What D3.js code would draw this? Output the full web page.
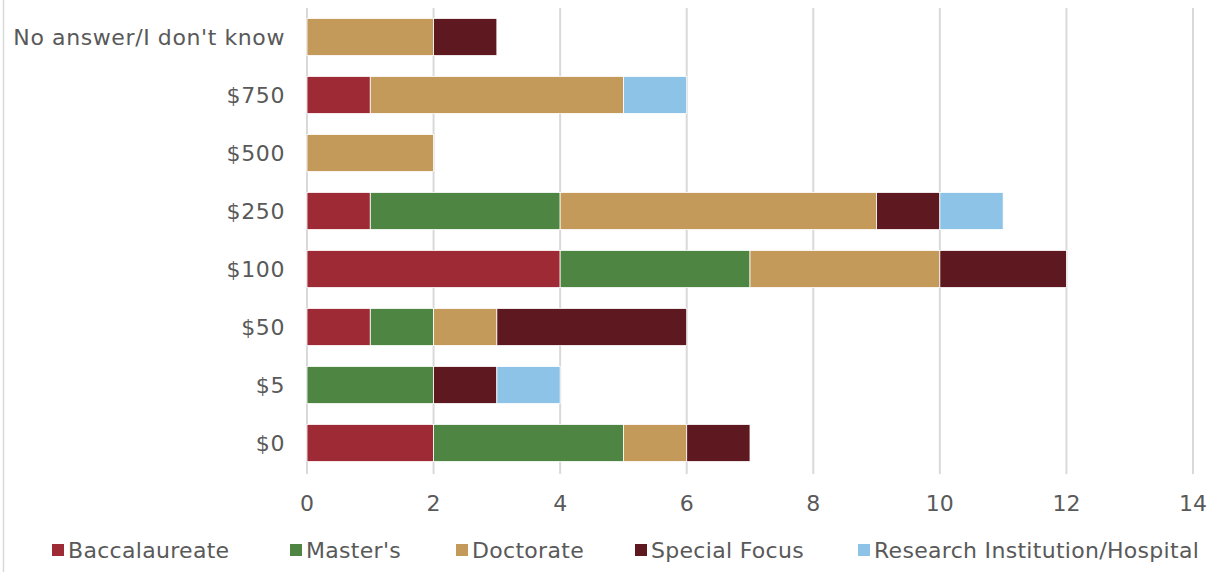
<!DOCTYPE html>
<html><head><meta charset="utf-8">
<script src="https://cdn.jsdelivr.net/npm/d3@7"></script>
<style>body{margin:0;background:#fff}svg{display:block}text{font-family:"DejaVu Sans",sans-serif;fill:#595959}</style>
</head><body><svg id="c" width="1212" height="572"></svg>
<script>
const categories = ["No answer/I don't know","$750","$500","$250","$100","$50","$5","$0"];
const seriesNames = ["Baccalaureate","Master's","Doctorate","Special Focus","Research Institution/Hospital"];
const baccalaureate = [0,1,0,1,4,1,0,2];
const masters       = [0,0,0,3,3,1,2,3];
const doctorate     = [2,4,2,5,3,1,0,1];
const specialFocus  = [1,0,0,1,2,3,1,1];
const research      = [0,1,0,1,0,0,1,0];
const xTicks = [0,2,4,6,8,10,12,14];
const colors = ["#9E2A36","#4E8542","#C39A5A","#5E1820","#8CC3E6"];

const seriesVals = [baccalaureate, masters, doctorate, specialFocus, research];
const rows = categories.map((c,i)=>{const o={cat:c}; seriesNames.forEach((s,j)=>o[s]=seriesVals[j][i]); return o;});
const stack = d3.stack().keys(seriesNames)(rows);

const svg = d3.select("#c");
const m = {left:307, right:1193, top:8, bottom:472};
const x = d3.scaleLinear().domain([0,14]).range([m.left,m.right]);
const y = d3.scaleBand().domain(categories).range([m.top,m.bottom]).paddingInner(0.36).paddingOuter(0.18);

svg.append("line").attr("x1",3.5).attr("x2",3.5).attr("y1",0).attr("y2",572).attr("stroke","#d9d9d9").attr("stroke-width",1.5);

svg.append("g").selectAll("line").data(xTicks).join("line")
  .attr("x1",d=>x(d)).attr("x2",d=>x(d)).attr("y1",m.top).attr("y2",m.bottom+2)
  .attr("stroke","#d9d9d9").attr("stroke-width",2);

svg.append("g").selectAll("g").data(stack).join("g").attr("fill",(d,i)=>colors[i])
  .selectAll("rect").data(d=>d.filter(p=>p[1]-p[0]>0)).join("rect")
  .attr("x",d=>x(d[0])).attr("width",d=>x(d[1])-x(d[0]))
  .attr("y",d=>y(d.data.cat)).attr("height",y.bandwidth())
  .attr("stroke","#fff").attr("stroke-width",0.8);

svg.append("g").selectAll("text").data(xTicks).join("text")
  .attr("x",d=>x(d)).attr("y",511).attr("text-anchor","middle").attr("font-size",22).text(d=>d);

svg.append("g").selectAll("text").data(categories).join("text")
  .attr("x",285).attr("y",d=>y(d)+y.bandwidth()/2).attr("dy","0.36em")
  .attr("text-anchor","end").attr("font-size",22).attr("letter-spacing",0.6).text(d=>d);

const legX = [52,290,456,635,858];
const lg = svg.append("g").selectAll("g").data(seriesNames).join("g")
  .attr("transform",(d,i)=>`translate(${legX[i]},550)`);
lg.append("rect").attr("x",0).attr("y",-6).attr("width",12).attr("height",12).attr("fill",(d,i)=>colors[i]);
lg.append("text").attr("x",16).attr("y",0).attr("dy","0.36em").attr("font-size",22).attr("letter-spacing",0.3).text(d=>d);
</script></body></html>
